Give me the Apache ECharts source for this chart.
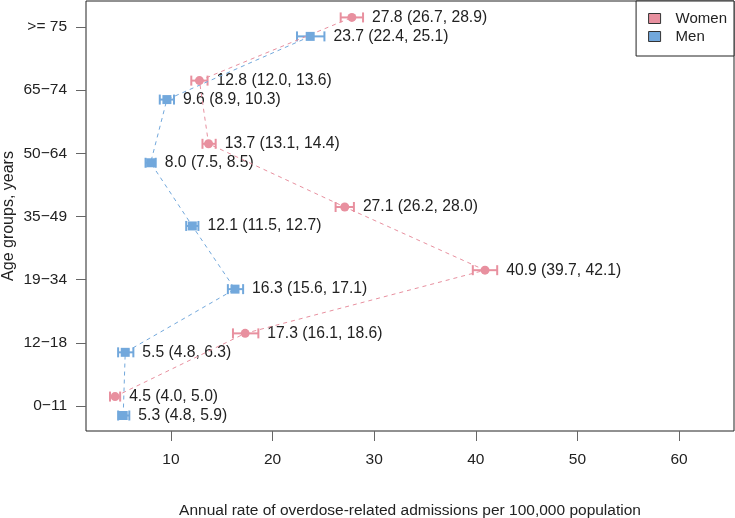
<!DOCTYPE html>
<html>
<head>
<meta charset="utf-8">
<script src="https://cdn.jsdelivr.net/npm/echarts@6/dist/echarts.min.js"></script>
<style>html,body{margin:0;padding:0;background:#fff}#c{width:735px;height:518px}</style>
</head>
<body>
<div id="c"></div>
<script>
const categories = ['0\u221211', '12\u221218', '19\u221234', '35\u221249', '50\u221264', '65\u221274', '>= 75'];
const womenRate = [4.5, 17.3, 40.9, 27.1, 13.7, 12.8, 27.8];
const womenLow  = [4.0, 16.1, 39.7, 26.2, 13.1, 12.0, 26.7];
const womenHigh = [5.0, 18.6, 42.1, 28.0, 14.4, 13.6, 28.9];
const menRate = [5.3, 5.5, 16.3, 12.1, 8.0, 9.6, 23.7];
const menLow  = [4.8, 4.8, 15.6, 11.5, 7.5, 8.9, 22.4];
const menHigh = [5.9, 6.3, 17.1, 12.7, 8.5, 10.3, 25.1];
const xTicks = [10, 20, 30, 40, 50, 60];

const WOMEN = '#E8909F', MEN = '#72A8DC';
const FONT = 'Liberation Sans, Arial, sans-serif';
const OFF = 0.15;

function fmt(v){ return v.toFixed(1); }

function build(rate, low, high, off) {
  return rate.map((r, i) => [r, i + off, low[i], high[i]]);
}
const womenData = build(womenRate, womenLow, womenHigh, OFF);
const menData = build(menRate, menLow, menHigh, -OFF);

function errRender(color) {
  return function (params, api) {
    const y = api.value(1);
    const lo = api.coord([api.value(2), y]);
    const hi = api.coord([api.value(3), y]);
    const r = api.value(0);
    const h = 5;
    const st = { stroke: color, lineWidth: 2 };
    return {
      type: 'group',
      children: [
        { type: 'line', shape: { x1: lo[0], y1: lo[1], x2: hi[0], y2: hi[1] }, style: st },
        { type: 'line', shape: { x1: lo[0], y1: lo[1] - h, x2: lo[0], y2: lo[1] + h }, style: st },
        { type: 'line', shape: { x1: hi[0], y1: hi[1] - h, x2: hi[0], y2: hi[1] + h }, style: st },
        { type: 'text', x: hi[0] + 9, y: hi[1], style: {
            text: fmt(r) + ' (' + fmt(api.value(2)) + ', ' + fmt(api.value(3)) + ')',
            fill: '#222', font: '15.7px ' + FONT, textVerticalAlign: 'middle', textAlign: 'left' } }
      ]
    };
  };
}

const chart = echarts.init(document.getElementById('c'), null, { renderer: 'canvas' });
chart.setOption({
  animation: false,
  backgroundColor: '#fff',
  textStyle: { fontFamily: FONT },
  grid: { left: 86, right: 1, top: 1, bottom: 87, containLabel: false, outerBoundsMode: 'none',
    show: true, borderColor: '#222', borderWidth: 1, backgroundColor: 'transparent' },
  legend: {
    orient: 'vertical', right: 1, top: 1,
    backgroundColor: '#fff', borderColor: '#222', borderWidth: 1, borderRadius: 0,
    padding: [10, 7, 12, 12], itemGap: 3, itemWidth: 12, itemHeight: 10,
    textStyle: { fontSize: 15, color: '#222', fontFamily: FONT, padding: [0, 0, 0, 10] },
    data: [
      { name: 'Women', icon: 'rect', itemStyle: { color: WOMEN, borderColor: '#333', borderWidth: 1 } },
      { name: 'Men', icon: 'rect', itemStyle: { color: MEN, borderColor: '#333', borderWidth: 1 } }
    ]
  },
  xAxis: {
    type: 'value', min: 1.64, max: 65.4,
    name: 'Annual rate of overdose-related admissions per 100,000 population',
    nameLocation: 'middle', nameGap: 72, nameMoveOverlap: false,
    nameTextStyle: { fontSize: 15.5, color: '#222', fontFamily: FONT },
    axisLine: { show: false, onZero: false },
    splitLine: { show: false },
    axisTick: { show: true, length: 10, lineStyle: { color: '#666' }, customValues: xTicks },
    axisLabel: { fontSize: 15.5, color: '#222', margin: 21, customValues: xTicks, fontFamily: FONT }
  },
  yAxis: {
    type: 'value', min: -0.395, max: 6.41,
    name: 'Age groups, years', nameLocation: 'middle', nameGap: 69, nameRotate: 90, nameMoveOverlap: false,
    nameTextStyle: { fontSize: 16, color: '#222', fontFamily: FONT },
    axisLine: { show: false, onZero: false },
    splitLine: { show: false },
    axisTick: { show: true, length: 10, lineStyle: { color: '#666' }, customValues: categories.map((c, i) => i) },
    axisLabel: { fontSize: 15.5, color: '#222', margin: 19, fontFamily: FONT,
      customValues: categories.map((c, i) => i),
      formatter: v => categories[Math.round(v)] }
  },
  series: [
    { name: 'Women', type: 'line', data: womenData.map(d => [d[0], d[1]]),
      lineStyle: { color: WOMEN, width: 1, type: [4, 4] },
      symbol: 'circle', symbolSize: 9, itemStyle: { color: WOMEN }, z: 3 },
    { name: 'Men', type: 'line', data: menData.map(d => [d[0], d[1]]),
      lineStyle: { color: MEN, width: 1, type: [4, 4] },
      symbol: 'rect', symbolSize: 9, itemStyle: { color: MEN }, z: 3 },
    { name: 'Women', type: 'custom', renderItem: errRender(WOMEN), data: womenData,
      encode: { x: [0, 2, 3], y: 1 }, z: 2 },
    { name: 'Men', type: 'custom', renderItem: errRender(MEN), data: menData,
      encode: { x: [0, 2, 3], y: 1 }, z: 2 }
  ]
});
</script>
</body>
</html>
